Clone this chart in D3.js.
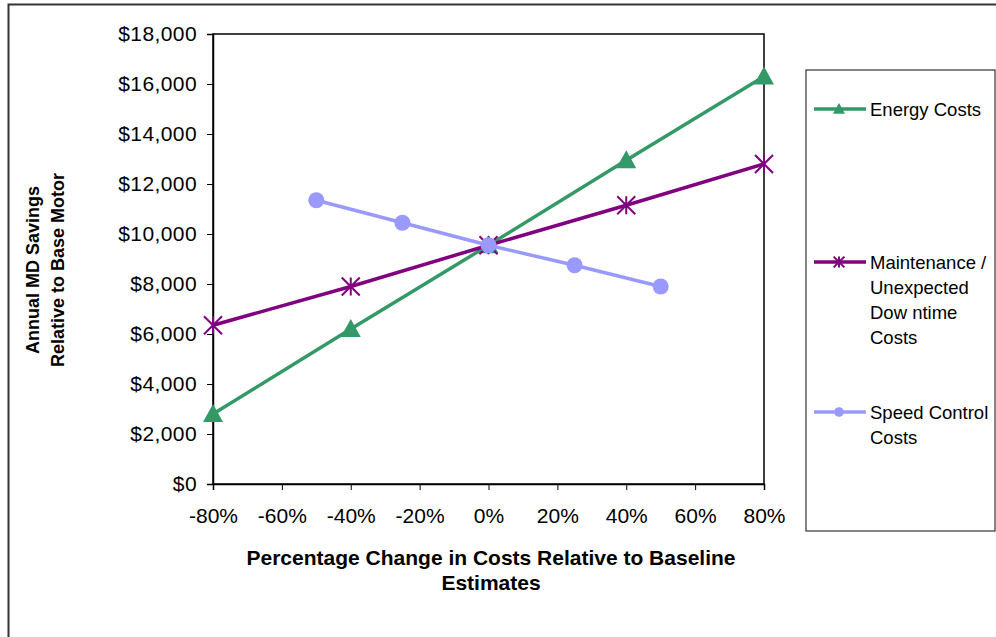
<!DOCTYPE html>
<html>
<head>
<meta charset="utf-8">
<script src="https://cdn.jsdelivr.net/npm/d3@7"></script>
<style>
  body { margin: 0; background: #fff; }
  svg { display: block; font-family: "Liberation Sans", Arial, sans-serif; }
</style>
</head>
<body>
<svg id="chart" width="996" height="637"></svg>
<script>
// Sensitivity of annual savings to cost assumptions
const energyX = [-80, -40, 0, 40, 80];
const energyY = [2800, 6200, 9550, 12950, 16300];
const maintX = [-80, -40, 0, 40, 80];
const maintY = [6350, 7900, 9550, 11150, 12800];
const speedX = [-50, -25, 0, 25, 50];
const speedY = [11350, 10450, 9550, 8750, 7900];
const xTicks = [-80, -60, -40, -20, 0, 20, 40, 60, 80];
const yTicks = [0, 2000, 4000, 6000, 8000, 10000, 12000, 14000, 16000, 18000];

const series = [
  { name: ["Energy Costs"], xs: energyX, ys: energyY, color: "#339966", marker: "triangle" },
  { name: ["Maintenance /", "Unexpected", "Dow ntime", "Costs"], xs: maintX, ys: maintY, color: "#800080", marker: "star" },
  { name: ["Speed Control", "Costs"], xs: speedX, ys: speedY, color: "#9999FF", marker: "circle" }
];

const FONT = "Liberation Sans, Arial, sans-serif";
const svg = d3.select("#chart");
const plot = { left: 213, right: 764, top: 34, bottom: 484 };

const x = d3.scaleLinear().domain([-80, 80]).range([plot.left, plot.right]);
const y = d3.scaleLinear().domain([0, 18000]).range([plot.bottom, plot.top]);

// Chart frame (left and top edges)
svg.append("path")
  .attr("d", "M8.5,637 V4.5 H996")
  .attr("fill", "none").attr("stroke", "#333").attr("stroke-width", 2);

// Plot area border
svg.append("rect")
  .attr("x", plot.left).attr("y", plot.top)
  .attr("width", plot.right - plot.left).attr("height", plot.bottom - plot.top)
  .attr("fill", "none").attr("stroke", "#000").attr("stroke-width", 1.5);

// Axes
const yAxis = d3.axisLeft(y).tickValues(yTicks).tickSize(6).tickPadding(10)
  .tickFormat(d => "$" + d3.format(",")(d));
svg.append("g").attr("transform", `translate(${plot.left},0)`).call(yAxis)
  .call(g => g.select(".domain").attr("stroke", "#000").attr("stroke-width", 1.5))
  .call(g => g.selectAll(".tick line").attr("stroke", "#000"))
  .call(g => g.selectAll("text").attr("font-size", 21).attr("fill", "#000")
    .attr("font-family", FONT).attr("letter-spacing", 0.4));

const xAxis = d3.axisBottom(x).tickValues(xTicks).tickSize(6).tickPadding(18)
  .tickFormat(d => d + "%");
svg.append("g").attr("transform", `translate(0,${plot.bottom})`).call(xAxis)
  .call(g => g.select(".domain").attr("stroke", "#000").attr("stroke-width", 1.5))
  .call(g => g.selectAll(".tick line").attr("stroke", "#000"))
  .call(g => g.selectAll("text").attr("font-size", 21).attr("fill", "#000")
    .attr("font-family", FONT));

// Axis titles
const yTitle = svg.append("text")
  .attr("transform", "translate(45,270) rotate(-90)")
  .attr("text-anchor", "middle").attr("font-weight", "bold").attr("font-size", 18);
yTitle.append("tspan").attr("x", 0).attr("y", -6).text("Annual MD Savings");
yTitle.append("tspan").attr("x", 0).attr("y", 19).text("Relative to Base Motor");

const xTitle = svg.append("text")
  .attr("text-anchor", "middle").attr("font-weight", "bold").attr("font-size", 21);
xTitle.append("tspan").attr("x", 491).attr("y", 565).text("Percentage Change in Costs Relative to Baseline");
xTitle.append("tspan").attr("x", 491).attr("y", 590).text("Estimates");

// Marker drawing
function drawMarker(g, type, cx, cy, color, scale = 1) {
  if (type === "triangle") {
    const s = 10 * scale;
    g.append("path")
      .attr("d", `M${cx},${cy - s} L${cx + s},${cy + s * 0.8} L${cx - s},${cy + s * 0.8} Z`)
      .attr("fill", color);
  } else if (type === "circle") {
    g.append("circle").attr("cx", cx).attr("cy", cy).attr("r", 8 * scale).attr("fill", color);
  } else if (type === "star") {
    const s = 9 * scale;
    g.append("path")
      .attr("d", `M${cx - s},${cy - s} L${cx + s},${cy + s} M${cx - s},${cy + s} L${cx + s},${cy - s} M${cx},${cy - s} V${cy + s}`)
      .attr("stroke", color).attr("stroke-width", 2).attr("fill", "none");
  }
}

const line = d3.line().x(d => x(d[0])).y(d => y(d[1]));

series.forEach(s => {
  const pts = s.xs.map((v, i) => [v, s.ys[i]]);
  const g = svg.append("g");
  g.append("path").datum(pts).attr("d", line)
    .attr("fill", "none").attr("stroke", s.color).attr("stroke-width", 3.5);
  pts.forEach(p => drawMarker(g, s.marker, x(p[0]), y(p[1]), s.color));
});

// Legend
svg.append("rect")
  .attr("x", 806).attr("y", 70).attr("width", 189).attr("height", 461)
  .attr("fill", "#fff").attr("stroke", "#333").attr("stroke-width", 1.2);

const legendRows = [109, 262, 412];
series.forEach((s, i) => {
  const ly = legendRows[i];
  const g = svg.append("g");
  g.append("line").attr("x1", 814).attr("x2", 866).attr("y1", ly).attr("y2", ly)
    .attr("stroke", s.color).attr("stroke-width", 3.5);
  drawMarker(g, s.marker, 839, ly, s.color, 0.6);
  const t = g.append("text").attr("font-size", 18.5).attr("fill", "#000");
  s.name.forEach((n, j) => {
    t.append("tspan").attr("x", 870).attr("y", ly + 7 + j * 25).text(n);
  });
});
</script>
</body>
</html>
